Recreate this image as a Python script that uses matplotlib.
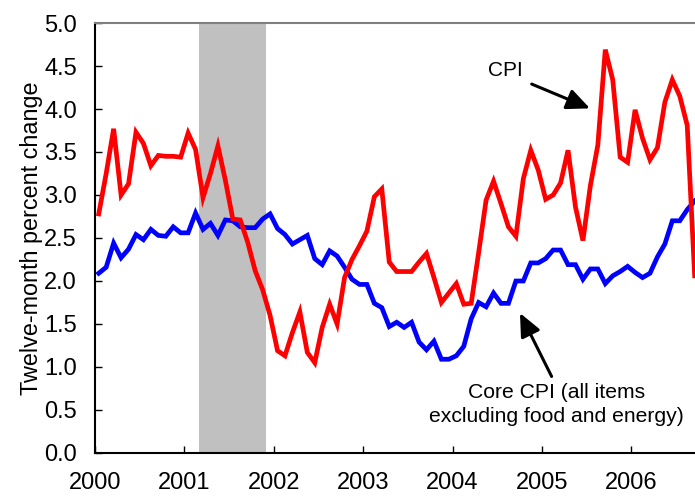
import matplotlib
matplotlib.use("Agg")
import matplotlib.pyplot as plt
import numpy as np

plt.rcParams.update({
    'font.family': 'Liberation Sans',
    'font.size': 17,
})

# monthly 12-month percent changes, Jan 2000 .. Sep 2006
cpi = [
    2.78, 3.25, 3.77, 3.00, 3.13, 3.73, 3.60, 3.34, 3.46, 3.45, 3.45, 3.44,
    3.72, 3.53, 2.97, 3.25, 3.57, 3.17, 2.72, 2.71, 2.45, 2.12, 1.90, 1.60,
    1.19, 1.13, 1.40, 1.64, 1.17, 1.05, 1.46, 1.73, 1.50, 2.04, 2.25, 2.41,
    2.58, 2.98, 3.07, 2.22, 2.11, 2.11, 2.11, 2.22, 2.32, 2.04, 1.75, 1.86,
    1.97, 1.73, 1.74, 2.33, 2.94, 3.16, 2.90, 2.63, 2.52, 3.19, 3.52, 3.29,
    2.95, 3.00, 3.14, 3.52, 2.86, 2.47, 3.11, 3.58, 4.69, 4.34, 3.44, 3.38,
    3.99, 3.66, 3.41, 3.55, 4.08, 4.34, 4.15, 3.81, 2.06,
]
core_cpi = [
    2.09, 2.16, 2.44, 2.27, 2.37, 2.54, 2.48, 2.60, 2.53, 2.52, 2.63, 2.56,
    2.56, 2.79, 2.60, 2.67, 2.53, 2.71, 2.70, 2.63, 2.62, 2.62, 2.72, 2.78,
    2.61, 2.54, 2.43, 2.48, 2.53, 2.26, 2.19, 2.35, 2.29, 2.16, 2.02, 1.96,
    1.96, 1.74, 1.69, 1.47, 1.52, 1.46, 1.52, 1.29, 1.20, 1.30, 1.09, 1.09,
    1.13, 1.24, 1.56, 1.75, 1.70, 1.86, 1.74, 1.74, 2.00, 2.00, 2.21, 2.21,
    2.26, 2.36, 2.36, 2.19, 2.19, 2.02, 2.14, 2.14, 1.97, 2.06, 2.11, 2.17,
    2.10, 2.04, 2.09, 2.28, 2.43, 2.70, 2.70, 2.83, 2.93,
]
years = [2000, 2001, 2002, 2003, 2004, 2005, 2006]
recession = (2001 + 2 / 12, 2001 + 11 / 12)  # Mar 2001 - Nov 2001

t = 2000 + (np.arange(len(cpi)) + 0.5) / 12

fig = plt.figure(figsize=(6.95, 4.98), dpi=100)
ax = fig.add_axes([0.1367, 0.0904, 0.8633, 0.8634])

ax.axvspan(recession[0], recession[1], color='#c0c0c0', lw=0, zorder=0)
ax.plot(t, cpi, color='#ff0000', lw=3.4, solid_joinstyle='miter', zorder=3)
ax.plot(t, core_cpi, color='#0000ff', lw=3.4, solid_joinstyle='miter', zorder=2)

ax.set_xlim(2000, 2006.712)
ax.set_ylim(0, 5)
ax.set_xticks(years)
ax.set_xticklabels([str(y) for y in years])
ax.set_yticks(np.arange(0, 5.01, 0.5))
ax.set_yticklabels([f'{v:.1f}' for v in np.arange(0, 5.01, 0.5)])
ax.tick_params(axis='both', direction='in', length=5, width=1, color='black')
ax.tick_params(axis='x', pad=14)
ax.tick_params(axis='y', pad=13)

for s in ['left', 'bottom']:
    ax.spines[s].set_color('black')
    ax.spines[s].set_linewidth(1.5)
ax.spines['top'].set_color('#808080')
ax.spines['top'].set_linewidth(1.5)
ax.spines['right'].set_visible(False)

ax.set_ylabel('Twelve-month percent change', fontsize=16.8, labelpad=1)

arrow = dict(arrowstyle='-|>,head_length=1.0,head_width=0.45',
             color='black', lw=2.2, shrinkA=0, shrinkB=0, mutation_scale=14)

ax.text(2004.586, 4.45, 'CPI', ha='center', va='center', fontsize=15)
ax.annotate('', xy=(2005.537, 4.007), xytext=(2004.885, 4.29),
            arrowprops=arrow)

ax.text(2005.164, 0.565, 'Core CPI (all items\nexcluding food and energy)',
        ha='center', va='center', fontsize=15.2, linespacing=1.38)
ax.annotate('', xy=(2004.754, 1.627), xytext=(2005.108, 0.89),
            arrowprops=arrow)

fig.savefig('out.png', dpi=100)
